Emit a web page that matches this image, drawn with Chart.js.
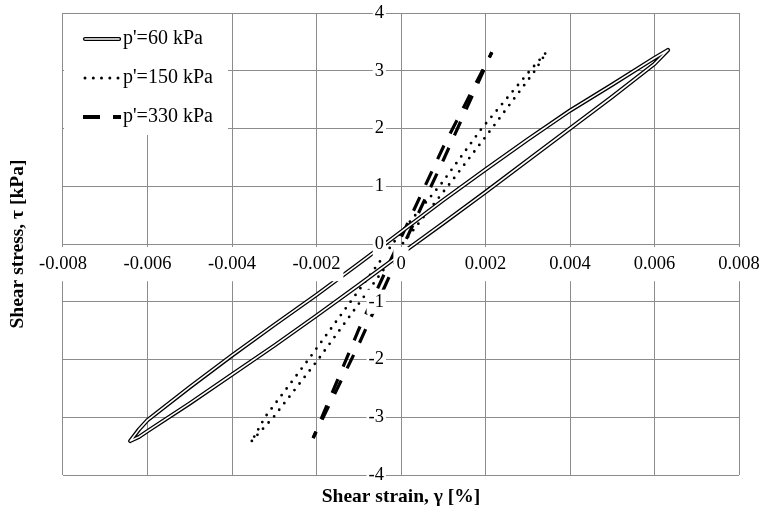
<!DOCTYPE html>
<html><head><meta charset="utf-8">
<script src="https://cdn.jsdelivr.net/npm/chart.js@4.4.1/dist/chart.umd.min.js"></script>
<style>html,body{margin:0;padding:0;background:#fff;}canvas{display:block;}</style>
</head><body>
<canvas id="c" width="761" height="513"></canvas>
<script>
const seriesNames = ["p'=60 kPa", "p'=150 kPa", "p'=330 kPa"];

// p'=60 kPa loop (strain %, stress kPa): lower branch up, then upper branch down
const strain60 = [-0.00641,-0.0062,-0.006,-0.005,-0.004,-0.003,-0.002,-0.001,0.0,0.001,0.002,0.003,0.004,0.005,0.006,0.00632,
                  0.006,0.005,0.004,0.003,0.002,0.001,0.0,-0.001,-0.002,-0.003,-0.004,-0.005,-0.006,-0.0062,-0.00641];
const stress60 = [-3.41,-3.34,-3.24,-2.76,-2.26,-1.76,-1.24,-0.71,-0.17,0.36,0.90,1.45,2.00,2.55,3.12,3.36,
                  3.22,2.76,2.31,1.81,1.29,0.76,0.21,-0.34,-0.88,-1.40,-1.93,-2.48,-3.05,-3.21,-3.41];

// p'=150 kPa loop
const strain150 = [-0.00353,-0.00302,-0.00196,0.0,0.00116,0.00215,0.00317,0.00344,
                   0.00305,0.00191,0.00096,0.0,-0.00219,-0.00322,-0.00353];
const stress150 = [-3.41,-3.0,-2.0,-0.03,1.05,2.0,3.0,3.32,
                   3.0,2.0,1.05,0.2,-2.0,-3.0,-3.41];

// p'=330 kPa loop, both branches listed from the lower tip upward
const strain330Lower = [-0.00208,-0.00100,0.0,0.00100,0.00215];
const stress330Lower = [-3.36,-1.74,-0.11,1.45,3.32];
const strain330Upper = [-0.00208,-0.00100,0.0,0.00100,0.00215];
const stress330Upper = [-3.36,-1.48,0.11,1.68,3.32];

const xTickValues = [-0.008,-0.006,-0.004,-0.002,0,0.002,0.004,0.006,0.008];
const xTickLabels = ['-0.008','-0.006','-0.004','-0.002','0','0.002','0.004','0.006','0.008'];
const yTickValues = [-4,-3,-2,-1,0,1,2,3,4];
const yTickLabels = ['-4','-3','-2','-1','0','1','2','3','4'];
const xTitle = 'Shear strain, \u03B3 [%]';
const yTitle = 'Shear stress, \u03C4 [kPa]';

const pts = (xs, ys) => xs.map((x, i) => ({x: x, y: ys[i]}));
const FONT = 'Liberation Serif, Times New Roman, serif';
const GRID = '#8c8c8c';
const CLEAR = 'rgba(0,0,0,0)';

function swatch(kind) {
  const c = document.createElement('canvas');
  c.width = 47; c.height = 8;
  const g = c.getContext('2d');
  g.strokeStyle = '#000';
  if (kind === 0) {
    g.lineCap = 'round';
    g.lineWidth = 4.2; g.beginPath(); g.moveTo(11, 4); g.lineTo(45, 4); g.stroke();
    g.strokeStyle = '#fff'; g.lineWidth = 1.6; g.beginPath(); g.moveTo(11, 4); g.lineTo(45, 4); g.stroke();
  } else if (kind === 1) {
    g.fillStyle = '#000';
    [11, 19.3, 27.5, 35.8, 44].forEach(x => { g.beginPath(); g.arc(x, 4, 1.5, 0, Math.PI * 2); g.fill(); });
  } else {
    g.lineWidth = 4; g.lineCap = 'butt';
    g.beginPath(); g.moveTo(9, 4); g.lineTo(26, 4); g.moveTo(39, 4); g.lineTo(47, 4); g.stroke();
  }
  return c;
}
const swatches = [swatch(0), swatch(1), swatch(2)];
const legendDatasetIndex = [0, 2, 3];

const legendBox = {
  id: 'legendBox',
  beforeDraw(chart) {
    const lg = chart.legend;
    lg.left = chart.chartArea.left;
    lg.top = chart.chartArea.top - 3;
  },
  beforeDatasetsDraw(chart) {
    const {ctx, chartArea} = chart;
    ctx.save();
    ctx.fillStyle = '#fff';
    ctx.fillRect(chartArea.left + 1, chartArea.top + 1, 164, 121);
    ctx.restore();
    chart.legend.draw();
  }
};

const dashed = {showLine: true, borderColor: '#000', borderWidth: 3.2, borderDash: [15, 13.5], borderDashOffset: 8, borderCapStyle: 'butt', pointRadius: 0, tension: 0};
const solid = {showLine: true, pointRadius: 0, tension: 0, borderJoinStyle: 'round', borderCapStyle: 'round'};

new Chart(document.getElementById('c'), {
  type: 'scatter',
  data: {
    datasets: [
      Object.assign({label: seriesNames[0], data: pts(strain60, stress60), borderColor: '#000', borderWidth: 4.2, order: 1}, solid),
      Object.assign({label: seriesNames[0] + ' inner', data: pts(strain60, stress60), borderColor: '#fff', borderWidth: 1.6, order: 0}, solid),
      {label: seriesNames[1], data: pts(strain150, stress150), showLine: true, borderColor: '#000', borderWidth: 2.8, borderDash: [0, 8.3], borderCapStyle: 'round', pointRadius: 0, tension: 0, order: 2},
      Object.assign({label: seriesNames[2], data: pts(strain330Lower, stress330Lower), order: 3}, dashed),
      Object.assign({label: seriesNames[2] + ' upper', data: pts(strain330Upper, stress330Upper), order: 4}, dashed)
    ]
  },
  options: {
    responsive: false,
    animation: false,
    devicePixelRatio: 1,
    events: [],
    layout: {padding: {left: 0, right: 22, top: 13, bottom: 0}},
    scales: {
      x: {
        type: 'linear', position: 'center', min: -0.008, max: 0.008,
        afterBuildTicks: s => { s.ticks = xTickValues.map(v => ({value: v})); },
        grid: {color: GRID, lineWidth: 1, drawTicks: true, tickLength: 9, tickColor: CLEAR},
        border: {color: GRID, width: 1},
        ticks: {
          callback: (v, i) => xTickLabels[i], maxRotation: 0, autoSkip: false,
          padding: 0, color: '#000', font: {family: FONT, size: 18.5}, z: 1,
          showLabelBackdrop: true, backdropColor: '#fff', backdropPadding: {x: 3, y: 6}
        }
      },
      y: {
        type: 'linear', position: 'center', min: -4, max: 4,
        afterBuildTicks: s => { s.ticks = yTickValues.map(v => ({value: v})); },
        grid: {color: GRID, lineWidth: 1, drawTicks: true, tickLength: 17, tickColor: CLEAR},
        border: {color: GRID, width: 1},
        ticks: {
          callback: (v, i) => yTickLabels[i], autoSkip: false,
          padding: 0, color: '#000', font: {family: FONT, size: 18.5}, z: 1,
          showLabelBackdrop: true, backdropColor: '#fff', backdropPadding: {x: 2, y: 1}
        }
      }
    },
    plugins: {
      tooltip: {enabled: false},
      legend: {
        position: 'chartArea', align: 'start',
        labels: {
          usePointStyle: true, pointStyleWidth: 31, boxHeight: 8, padding: 19,
          color: '#000', font: {family: FONT, size: 20},
          generateLabels: () => seriesNames.map((n, i) => ({
            text: n, pointStyle: swatches[i], fillStyle: '#000', strokeStyle: '#000',
            lineWidth: 0, hidden: false, datasetIndex: legendDatasetIndex[i], fontColor: '#000'
          }))
        }
      },
      title: {
        display: true, text: yTitle, position: 'left', fullSize: false, color: '#000',
        font: {family: FONT, size: 19.5, weight: 'bold'}, padding: {top: 6.3, bottom: 33.3}
      },
      subtitle: {
        display: true, text: xTitle, position: 'bottom', fullSize: false, color: '#000',
        font: {family: FONT, size: 19.5, weight: 'bold'}, padding: {top: 10.3, bottom: 4.3}
      }
    }
  },
  plugins: [legendBox]
});
</script>
</body></html>
